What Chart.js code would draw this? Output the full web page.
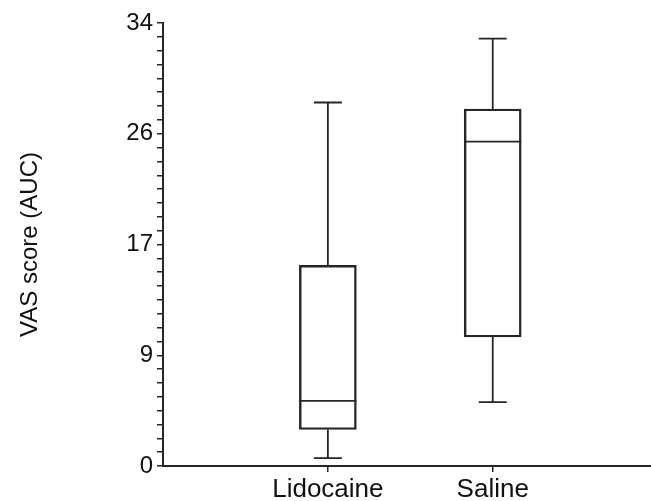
<!DOCTYPE html>
<html>
<head>
<meta charset="utf-8">
<script src="https://cdn.jsdelivr.net/npm/chart.js@4.4.1/dist/chart.umd.min.js"></script>
<style>
  body { margin: 0; background: #fff; }
</style>
</head>
<body>
<canvas id="mychart" width="651" height="501"></canvas>
<script>
// box plot values
const groups = ['Lidocaine', 'Saline'];
const mins = [0.6, 4.9];
const q1s = [2.8, 9.9];
const medians = [5.0, 24.9];
const q3s = [15.4, 27.4];
const maxs = [27.9, 32.8];

// y axis: major ticks and their printed labels
const majorTicks = [0, 8.5, 17, 25.5, 34];
const tickLabels = ['0', '9', '17', '26', '34'];

const ink = '#262626';

// whiskers, caps and medians, drawn over the floating bars
const whiskers = {
    id: 'whiskers',
    afterDatasetsDraw(chart) {
        const ctx = chart.ctx;
        const y = chart.scales.y;
        const meta = chart.getDatasetMeta(0);
        ctx.save();
        ctx.strokeStyle = ink;
        ctx.lineWidth = 1.8;
        meta.data.forEach((bar, i) => {
            const x = bar.x;
            const half = bar.width / 2;
            const cap = 14;
            ctx.beginPath();
            // upper whisker
            ctx.moveTo(x, y.getPixelForValue(q3s[i]));
            ctx.lineTo(x, y.getPixelForValue(maxs[i]));
            ctx.moveTo(x - cap, y.getPixelForValue(maxs[i]));
            ctx.lineTo(x + cap, y.getPixelForValue(maxs[i]));
            // lower whisker
            ctx.moveTo(x, y.getPixelForValue(q1s[i]));
            ctx.lineTo(x, y.getPixelForValue(mins[i]));
            ctx.moveTo(x - cap, y.getPixelForValue(mins[i]));
            ctx.lineTo(x + cap, y.getPixelForValue(mins[i]));
            // median
            ctx.moveTo(x - half, y.getPixelForValue(medians[i]));
            ctx.lineTo(x + half, y.getPixelForValue(medians[i]));
            ctx.stroke();
        });
        ctx.restore();
    }
};

const ctx = document.getElementById('mychart');

new Chart(ctx, {
    type: 'bar',
    data: {
        datasets: [{
            data: groups.map((g, i) => ({ x: i + 1, y: [q1s[i], q3s[i]] })),
            backgroundColor: 'rgba(255,255,255,0)',
            borderColor: ink,
            borderWidth: 1.8,
            borderSkipped: false,
            barThickness: 57
        }]
    },
    options: {
        responsive: false,
        animation: false,
        layout: { padding: { top: 23, left: 16, right: 0, bottom: 0 } },
        plugins: {
            legend: { display: false },
            tooltip: { enabled: false }
        },
        scales: {
            x: {
                type: 'linear',
                min: 0,
                max: 2.96,
                offset: false,
                afterBuildTicks: (scale) => {
                    scale.ticks = groups.map((g, i) => ({ value: i + 1 }));
                },
                afterFit: (scale) => { scale.height = 35; },
                ticks: {
                    autoSkip: false,
                    maxRotation: 0,
                    padding: 2,
                    color: '#111',
                    font: { family: 'Liberation Sans', size: 26 },
                    callback: (value) => groups[value - 1]
                },
                grid: {
                    offset: false,
                    drawOnChartArea: false,
                    color: ink,
                    lineWidth: 1.5,
                    tickLength: 6
                },
                border: { color: ink, width: 2 }
            },
            y: {
                min: 0,
                max: 34,
                afterBuildTicks: (scale) => {
                    const t = [];
                    for (let k = 0; k < majorTicks.length - 1; k++) {
                        const step = (majorTicks[k + 1] - majorTicks[k]) / 8;
                        for (let j = 0; j < 8; j++) t.push({ value: majorTicks[k] + j * step });
                    }
                    t.push({ value: majorTicks[majorTicks.length - 1] });
                    scale.ticks = t;
                },
                afterFit: (scale) => { scale.width = 163 - 16; },
                ticks: {
                    autoSkip: false,
                    padding: 4,
                    color: '#111',
                    font: { family: 'Liberation Sans', size: 24 },
                    callback: (value) => {
                        const k = majorTicks.indexOf(value);
                        return k >= 0 ? tickLabels[k] : '';
                    }
                },
                grid: {
                    drawOnChartArea: false,
                    color: ink,
                    lineWidth: 1.5,
                    tickLength: 6
                },
                border: { color: ink, width: 2 },
                title: {
                    display: true,
                    text: 'VAS score (AUC)',
                    color: '#111',
                    padding: 0,
                    font: { family: 'Liberation Sans', size: 24 }
                }
            }
        }
    },
    plugins: [whiskers]
});
</script>
</body>
</html>
